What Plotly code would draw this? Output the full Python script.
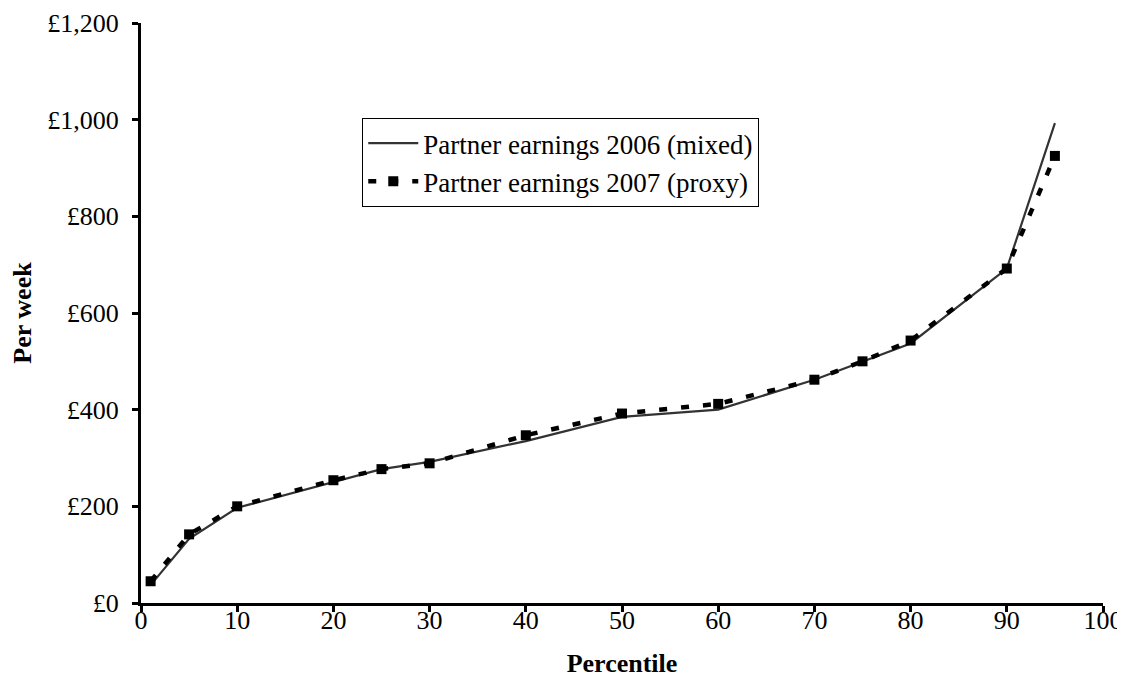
import plotly.graph_objects as go

percentiles = [1, 5, 10, 20, 25, 30, 40, 50, 60, 70, 75, 80, 90, 95]
earnings_2006 = [37, 133, 197, 250, 277, 292, 335, 385, 400, 462, 500, 537, 692, 993]
earnings_2007 = [45, 142, 200, 254, 277, 289, 347, 392, 412, 462, 500, 543, 692, 925]
y_ticks = [0, 200, 400, 600, 800, 1000, 1200]
y_labels = ["£0", "£200", "£400", "£600", "£800", "£1,000", "£1,200"]
x_ticks = [0, 10, 20, 30, 40, 50, 60, 70, 80, 90, 100]

FAM = "Liberation Serif, Times New Roman, serif"

fig = go.Figure()
fig.add_trace(go.Scatter(
    x=percentiles, y=earnings_2006, mode="lines",
    name="Partner earnings 2006 (mixed)",
    line=dict(color="#333333", width=2.2),
))
fig.add_trace(go.Scatter(
    x=percentiles, y=earnings_2007, mode="lines+markers",
    name="Partner earnings 2007 (proxy)",
    line=dict(color="black", width=4.5, dash="8px,14px"),
    marker=dict(symbol="square", size=10, color="black"),
))

fig.update_layout(
    width=1125, height=698,
    paper_bgcolor="white", plot_bgcolor="white",
    margin=dict(l=133, r=30, t=15, b=103),
    font=dict(family=FAM, size=26, color="black"),
    showlegend=True,
    legend=dict(
        x=0.23, y=0.836, xanchor="left", yanchor="top",
        bordercolor="black", borderwidth=1, bgcolor="white",
        font=dict(family=FAM, size=27, color="black"),
        itemwidth=50, tracegroupgap=0,
    ),
    xaxis=dict(
        range=[0, 100], tickvals=x_ticks, ticks="outside", ticklen=6, tickwidth=3,
        tickcolor="black", showline=True, linecolor="black", linewidth=3,
        showgrid=False, zeroline=False, ticklabelstandoff=-14, automargin=False,
        tickfont=dict(family=FAM, size=26),
        title=dict(text="<b>Percentile</b>", standoff=20,
                   font=dict(family=FAM, size=26)),
    ),
    yaxis=dict(
        range=[0, 1200], tickvals=y_ticks, ticktext=y_labels, ticks="outside",
        ticklen=6, tickwidth=3, tickcolor="black", showline=True, linecolor="black",
        linewidth=3, showgrid=False, zeroline=False, ticklabelstandoff=8, automargin=False,
        tickfont=dict(family=FAM, size=26),
        title=dict(text="<b>Per week</b>", standoff=16,
                   font=dict(family=FAM, size=26)),
    ),
)

fig.write_html("out.html")
